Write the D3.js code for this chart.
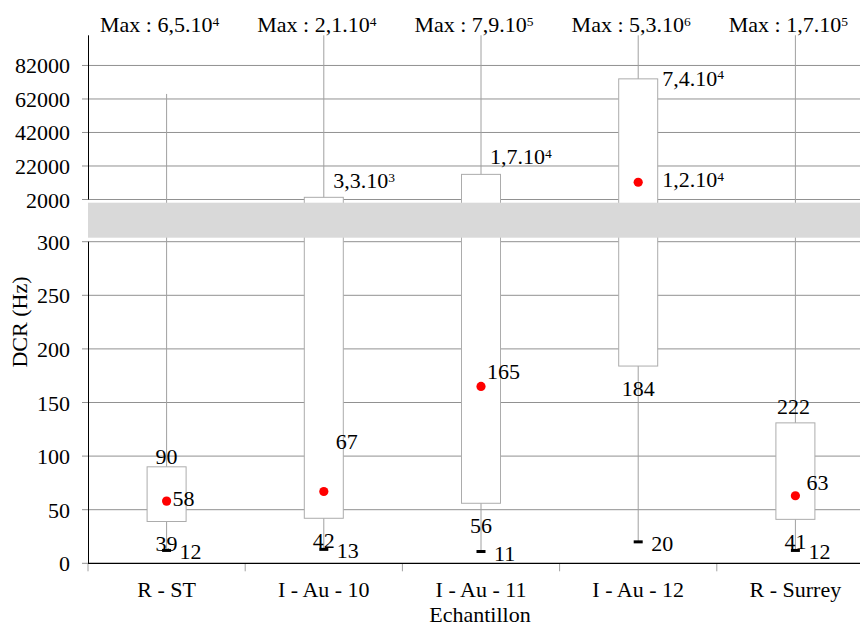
<!DOCTYPE html>
<html><head><meta charset="utf-8">
<script src="https://cdn.jsdelivr.net/npm/d3@7"></script>
</head><body style="margin:0;background:#fff">
<svg id="chart" width="860" height="626" style="display:block"></svg>
<script>
// ---------- DATA ----------
const categories = ["R - ST", "I - Au - 10", "I - Au - 11", "I - Au - 12", "R - Surrey"];
const minVals   = [12, 13, 11, 20, 12];
const q1Vals    = [39, 42, 56, 184, 41];
const meanVals  = [58, 67, 165, 12300, 63];
const q3Vals    = [90, 3300, 17000, 74000, 131];
const whiskerHigh = [65000, 100000, 100000, 100000, 100000];
const minLabels  = ["12", "13", "11", "20", "12"];
const q1Labels   = ["39", "42", "56", "184", "41"];
const meanLabels = ["58", "67", "165", "1,2.10^4", "63"];
const q3Labels   = ["90", "3,3.10^3", "1,7.10^4", "7,4.10^4", "222"];
const maxLabels  = ["6,5.10^4", "2,1.10^4", "7,9.10^5", "5,3.10^6", "1,7.10^5"];
const bottomTicks = [0, 50, 100, 150, 200, 250, 300];
const topTicks    = [2000, 22000, 42000, 62000, 82000];
const yTitle = "DCR (Hz)";
const xTitle = "Echantillon";

// ---------- LAYOUT ----------
const W = 860, H = 626;
const left = 88, right = 874;
const yBottom = 563.3, y300 = 241.7, y2000 = 199.5, yTop = 35.3;
const fontSize = 22;
const FONT = "'Liberation Serif'";
const q3Pos   = [{a:"middle",dx:0,dy:-3},{a:"start",dx:9.5,dy:-9},{a:"start",dx:9,dy:-10},{a:"start",dx:24,dy:7},{a:"middle",dx:-2,dy:-9}];
const meanPos = [{a:"start",dx:6,dy:5},{a:"start",dx:12,dy:-42},{a:"start",dx:6,dy:-7},{a:"start",dx:24,dy:5},{a:"start",dx:11,dy:-6}];

const svg = d3.select("#chart");
const x = d3.scaleBand().domain(categories).range([left, right]);
const y = d3.scaleLinear()
  .domain([0, 300, 2000, 100000])
  .range([yBottom, y300, y2000, yTop])
  .clamp(true);
const cx = c => x(c) + x.bandwidth() / 2;
const boxW = 39;

function txt(parent) {
  return parent.append("text").attr("font-family", FONT).attr("font-size", fontSize).attr("fill", "#000");
}
function setLabel(sel, s) {
  const parts = s.split("^");
  sel.append("tspan").attr("font-family", FONT).text(parts[0]);
  if (parts[1]) sel.append("tspan").attr("font-family", FONT).attr("font-size", 13.5).attr("dy", -6.5).text(parts[1]);
}

// gridlines
const gridTicks = bottomTicks.filter(v => v > 0).concat(topTicks);
svg.append("g").selectAll("line").data(gridTicks).join("line")
  .attr("x1", left - 6).attr("x2", W)
  .attr("y1", d => y(d)).attr("y2", d => y(d))
  .attr("stroke", "#919191").attr("stroke-width", 1);
svg.append("line").attr("x1", left - 6).attr("x2", left).attr("y1", y(0)).attr("y2", y(0)).attr("stroke", "#919191");

// tick labels
const TL = svg.append("g");
bottomTicks.concat(topTicks).forEach(v => {
  txt(TL).attr("x", left - 18).attr("y", y(v) + 8).attr("text-anchor", "end").text(v);
});

// x ticks
const edges = categories.map(c => x(c));
svg.append("g").selectAll("line").data(edges).join("line")
  .attr("x1", d => d).attr("x2", d => d)
  .attr("y1", yBottom).attr("y2", yBottom + 8)
  .attr("stroke", "#a0a0a0");

// whiskers
const g = svg.append("g");
categories.forEach((c, i) => {
  g.append("line").attr("x1", cx(c)).attr("x2", cx(c))
    .attr("y1", y(minVals[i])).attr("y2", y(whiskerHigh[i]))
    .attr("stroke", "#a0a0a0").attr("stroke-width", 1);
});
// boxes
g.selectAll("rect.box").data(categories).join("rect").attr("class", "box")
  .attr("x", c => cx(c) - boxW / 2)
  .attr("width", boxW)
  .attr("y", (c, i) => y(q3Vals[i]))
  .attr("height", (c, i) => y(q1Vals[i]) - y(q3Vals[i]))
  .attr("fill", "#fff").attr("stroke", "#acacac").attr("stroke-width", 1);

// axes lines
svg.append("line").attr("x1", left + 0.5).attr("x2", left + 0.5).attr("y1", y(100000)).attr("y2", y(2000)).attr("stroke", "#000");
svg.append("line").attr("x1", left + 0.5).attr("x2", left + 0.5).attr("y1", y(300)).attr("y2", yBottom).attr("stroke", "#000");
svg.append("line").attr("x1", left).attr("x2", W).attr("y1", yBottom).attr("y2", yBottom).attr("stroke", "#000").attr("stroke-width", 1.2);

// break band
svg.append("rect").attr("x", left).attr("width", W - left)
  .attr("y", y(2000) + 3.2).attr("height", (y(300) - 4) - (y(2000) + 3.2))
  .attr("fill", "#d9d9d9");

// min dashes
g.selectAll("rect.min").data(categories).join("rect").attr("class", "min")
  .attr("x", c => cx(c) - 4.5).attr("width", 9)
  .attr("y", (c, i) => y(minVals[i]) - 1.5).attr("height", 3)
  .attr("fill", "#000");

// means
svg.append("g").selectAll("circle").data(categories).join("circle")
  .attr("cx", cx).attr("cy", (c, i) => y(meanVals[i])).attr("r", 4.6)
  .attr("fill", "#ff0000");

// labels
const L = svg.append("g");
categories.forEach((c, i) => {
  txt(L).attr("x", cx(c) + q3Pos[i].dx).attr("y", y(q3Vals[i]) + q3Pos[i].dy)
    .attr("text-anchor", q3Pos[i].a).call(setLabel, q3Labels[i]);
  txt(L).attr("x", cx(c) + meanPos[i].dx).attr("y", y(meanVals[i]) + meanPos[i].dy)
    .attr("text-anchor", meanPos[i].a).call(setLabel, meanLabels[i]);
  txt(L).attr("x", cx(c)).attr("y", y(q1Vals[i]) + 30)
    .attr("text-anchor", "middle").call(setLabel, q1Labels[i]);
  txt(L).attr("x", cx(c) + 13).attr("y", y(minVals[i]) + 9)
    .attr("text-anchor", "start").call(setLabel, minLabels[i]);
  txt(L).attr("x", cx(c) - 7).attr("y", 32)
    .attr("text-anchor", "middle").call(setLabel, "Max : " + maxLabels[i]);
  txt(L).attr("x", cx(c)).attr("y", 597)
    .attr("text-anchor", "middle").text(c);
});

// titles
txt(svg).attr("x", cx(categories[2]) - 1).attr("y", 622)
  .attr("text-anchor", "middle").text(xTitle);
txt(svg).attr("transform", "translate(27,322) rotate(-90)")
  .attr("text-anchor", "middle").text(yTitle);
</script>
</body></html>
